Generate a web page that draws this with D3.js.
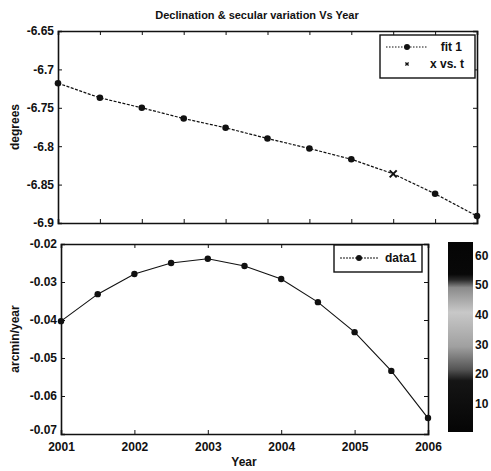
<!DOCTYPE html>
<html>
<head>
<meta charset="utf-8">
<script src="https://cdn.jsdelivr.net/npm/d3@7"></script>
<style>
  body { margin: 0; background: #fff; }
  text { font-family: "Liberation Sans", Arial, sans-serif; font-weight: bold; fill: #111; }
</style>
</head>
<body>
<svg id="chart"></svg>
<script>
// data
const years = [2001, 2001.5, 2002, 2002.5, 2003, 2003.5, 2004, 2004.5, 2005, 2005.5, 2006];
const declination = [-6.718, -6.737, -6.750, -6.764, -6.776, -6.790, -6.803, -6.817, -6.836, -6.862, -6.891];
const secular = [-0.0403, -0.0332, -0.0279, -0.0250, -0.0239, -0.0258, -0.0292, -0.0353, -0.0432, -0.0534, -0.0658];
const topYTicks = [-6.9, -6.85, -6.8, -6.75, -6.7, -6.65];
const botYTicks = [-0.07, -0.06, -0.05, -0.04, -0.03, -0.02];
const botXTicks = [2001, 2002, 2003, 2004, 2005, 2006];
const cbTicks = [10, 20, 30, 40, 50, 60];
const cbStops = [[0, "#050505"], [0.27, "#151515"], [0.33, "#555"], [0.45, "#a0a0a0"], [0.63, "#c8c8c8"], [0.76, "#8a8a8a"], [0.8, "#2a2a2a"], [0.83, "#080808"], [1, "#050505"]];

const W = 491, H = 471;
const svg = d3.select("#chart").attr("width", W).attr("height", H);

const fmt = d => String(+d.toFixed(4));

function box(g, x, y, xt, yt, showX) {
  const [x0, x1] = x.range(), [y0, y1] = y.range();
  const tl = 4;
  g.append("g").attr("class", "xb").attr("transform", `translate(0,${y0})`)
    .call(d3.axisBottom(x).tickValues(xt).tickSize(-tl).tickPadding(8).tickFormat(showX ? d3.format("d") : ""));
  g.append("g").attr("transform", `translate(0,${y1})`)
    .call(d3.axisTop(x).tickValues(xt).tickSize(-tl).tickFormat(""));
  g.append("g").attr("class", "yl").attr("transform", `translate(${x0},0)`)
    .call(d3.axisLeft(y).tickValues(yt).tickSize(-tl).tickPadding(4).tickFormat(fmt));
  g.append("g").attr("transform", `translate(${x1},0)`)
    .call(d3.axisRight(y).tickValues(yt).tickSize(-tl).tickFormat(""));
  g.selectAll(".domain").attr("stroke", "#111").attr("stroke-width", 1.6);
  g.selectAll(".tick line").attr("stroke", "#111").attr("stroke-width", 1);
  g.selectAll(".tick text").style("font-size", "12px").style("font-weight", "bold").attr("fill", "#111");
}

// ---- top panel
const xTop = d3.scaleLinear().domain([2001, 2006]).range([58, 477]);
const yTop = d3.scaleLinear().domain([-6.9, -6.65]).range([223, 31]);
const gTop = svg.append("g");
box(gTop, xTop, yTop, years, topYTicks, false);

gTop.append("path")
  .datum(years.map((t, i) => [t, declination[i]]))
  .attr("fill", "none").attr("stroke", "#111").attr("stroke-width", 1.2)
  .attr("stroke-dasharray", "3 1.5")
  .attr("d", d3.line().x(d => xTop(d[0])).y(d => yTop(d[1])));

const xMark = (g, cx, cy, s, w) => g.append("path")
  .attr("d", `M${cx - s},${cy - s}L${cx + s},${cy + s}M${cx - s},${cy + s}L${cx + s},${cy - s}`)
  .attr("stroke", "#111").attr("stroke-width", w || 1.4);

// "x vs. t" markers sit under the fit dots; only the one at 2005 shows
const shownX = 8;
xMark(gTop, xTop(years[shownX]), yTop(declination[shownX]), 3.5, 2);

gTop.selectAll("circle.pt").data(years.map((t, i) => i).filter(i => i !== shownX))
  .enter().append("circle")
  .attr("cx", i => xTop(years[i])).attr("cy", i => yTop(declination[i]))
  .attr("r", 3.3).attr("fill", "#111");

svg.append("text").attr("x", 257).attr("y", 19).attr("text-anchor", "middle")
  .style("font-size", "11px").text("Declination & secular variation Vs Year");
svg.append("text").attr("transform", "translate(19,127) rotate(-90)").attr("text-anchor", "middle")
  .style("font-size", "12px").text("degrees");

// top legend
const lg1 = svg.append("g");
lg1.append("rect").attr("x", 380).attr("y", 35).attr("width", 95).attr("height", 43)
  .attr("fill", "#fff").attr("stroke", "#111").attr("stroke-width", 1.4);
lg1.append("line").attr("x1", 386).attr("x2", 428).attr("y1", 47).attr("y2", 47)
  .attr("stroke", "#111").attr("stroke-dasharray", "1.5 1.5");
lg1.append("circle").attr("cx", 407).attr("cy", 47).attr("r", 3).attr("fill", "#111");
lg1.append("text").attr("x", 462).attr("y", 51).attr("text-anchor", "end").style("font-size", "12px").text("fit 1");
xMark(lg1, 407, 64, 1.6);
lg1.append("text").attr("x", 464).attr("y", 68).attr("text-anchor", "end").style("font-size", "12px").text("x vs. t");

// ---- bottom panel
const xBot = d3.scaleLinear().domain([2001, 2006]).range([61, 428]);
const yBot = d3.scaleLinear().domain([-0.07, -0.02]).range([434, 244]);
const gBot = svg.append("g");
box(gBot, xBot, yBot, botXTicks, botYTicks, true);
// lowest y label sits a little above the corner, as in the original
gBot.select(".yl").selectAll(".tick").filter(d => d === -0.07).select("text").attr("dy", "-0.05em");

gBot.append("path")
  .datum(years.map((t, i) => [t, secular[i]]))
  .attr("fill", "none").attr("stroke", "#111").attr("stroke-width", 1.1)
  .attr("d", d3.line().x(d => xBot(d[0])).y(d => yBot(d[1])));
gBot.selectAll("circle.pt").data(years)
  .enter().append("circle")
  .attr("cx", d => xBot(d)).attr("cy", (d, i) => yBot(secular[i]))
  .attr("r", 3.2).attr("fill", "#111");

svg.append("text").attr("x", 244).attr("y", 466).attr("text-anchor", "middle")
  .style("font-size", "12px").text("Year");
svg.append("text").attr("transform", "translate(19,339) rotate(-90)").attr("text-anchor", "middle")
  .style("font-size", "12px").text("arcmin/year");

// bottom legend
const lg2 = svg.append("g");
lg2.append("rect").attr("x", 334).attr("y", 245).attr("width", 88).attr("height", 27)
  .attr("fill", "#fff").attr("stroke", "#111").attr("stroke-width", 1.4);
lg2.append("line").attr("x1", 340).attr("x2", 379).attr("y1", 258).attr("y2", 258)
  .attr("stroke", "#111").attr("stroke-dasharray", "2 1");
lg2.append("circle").attr("cx", 359).attr("cy", 258).attr("r", 3).attr("fill", "#111");
lg2.append("text").attr("x", 385).attr("y", 262).style("font-size", "12px").text("data1");

// ---- colorbar
const yCb = d3.scaleLinear().domain([0.5, 64.5]).range([432, 242]);
const grad = svg.append("defs").append("linearGradient").attr("id", "cb")
  .attr("x1", 0).attr("y1", 1).attr("x2", 0).attr("y2", 0);
grad.selectAll("stop").data(cbStops).enter().append("stop")
  .attr("offset", d => d[0]).attr("stop-color", d => d[1]);
svg.append("rect").attr("x", 448).attr("y", yCb(64.5)).attr("width", 25)
  .attr("height", yCb(0.5) - yCb(64.5)).attr("fill", "url(#cb)");
const gCb = svg.append("g").attr("transform", "translate(473,0)")
  .call(d3.axisRight(yCb).tickValues(cbTicks).tickSize(0).tickPadding(2).tickFormat(d3.format("d")));
gCb.select(".domain").remove();
gCb.selectAll(".tick text").style("font-size", "12px").style("font-weight", "bold").attr("fill", "#111");
</script>
</body>
</html>
